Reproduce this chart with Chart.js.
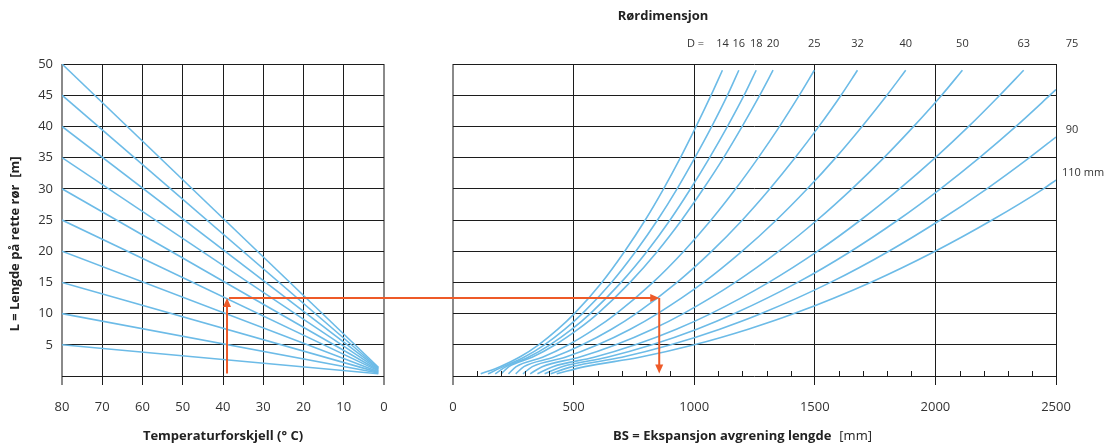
<!DOCTYPE html>
<html>
<head>
<meta charset="utf-8">
<script src="https://cdn.jsdelivr.net/npm/chart.js@4.4.1/dist/chart.umd.min.js"></script>
<style>
  html, body { margin: 0; padding: 0; background: #fff; }
  #wrap { position: relative; width: 1104px; height: 445px; }
  #leftBox { position: absolute; left: 0; top: 0; width: 440px; height: 445px; }
  #rightBox { position: absolute; left: 440px; top: 0; width: 664px; height: 445px; }
</style>
</head>
<body>
<div id="wrap">
  <div id="leftBox"><canvas id="tempCanvas"></canvas></div>
  <div id="rightBox"><canvas id="bsCanvas"></canvas></div>
</div>
<script>
// left panel: straight lines from 80 °C down to the fan point near 0
const lengthsAt80 = [5, 10, 15, 20, 25, 30, 35, 40, 45, 50];
const lengthsNearZero = [0.35, 0.47, 0.58, 0.7, 0.82, 0.93, 1.05, 1.17, 1.28, 1.4];
const tempHigh = 80;
const tempLow = 1.4;
const tempTicks = [80, 70, 60, 50, 40, 30, 20, 10, 0];

// right panel: BS [mm] for each pipe dimension, read at these L levels
const pipeLabels = ['14', '16', '18', '20', '25', '32', '40', '50', '63', '75', '90', '110 mm'];
const lengthLevels = [0.35, 1.5, 3, 5, 7.5, 10, 15, 20, 25, 30, 35, 40, 45, 49];
const bs14 = [115, 195, 275, 355, 435, 503, 617, 712, 797, 873, 943, 1008, 1070, 1117];
const bs16 = [145, 208, 294, 379, 464, 536, 657, 758, 848, 929, 1003, 1073, 1138, 1185];
const bs18 = [175, 220, 312, 402, 493, 569, 697, 805, 900, 985, 1064, 1138, 1207, 1257];
const bs20 = [200, 232, 328, 424, 519, 600, 734, 848, 948, 1038, 1122, 1199, 1272, 1327];
const bs25 = [230, 262, 371, 479, 586, 677, 829, 957, 1070, 1172, 1266, 1354, 1436, 1498];
const bs32 = [260, 294, 416, 536, 657, 759, 929, 1073, 1200, 1314, 1419, 1517, 1609, 1677];
const bs40 = [290, 329, 465, 600, 735, 848, 1039, 1199, 1341, 1469, 1587, 1696, 1799, 1877];
const bs50 = [320, 370, 523, 675, 827, 955, 1170, 1351, 1510, 1654, 1787, 1910, 2026, 2112];
const bs63 = [350, 414, 585, 756, 926, 1069, 1309, 1512, 1690, 1851, 2000, 2138, 2267, 2366];
const bs75 = [380, 452, 639, 825, 1011, 1167, 1429, 1650, 1845, 2021, 2183, 2334, 2475, 2500];
const bs90 = [405, 494, 700, 903, 1106, 1278, 1565, 1807, 2020, 2213, 2390, 2500];
const bs110 = [430, 547, 774, 1000, 1224, 1414, 1731, 1999, 2235, 2448, 2500];
// L where each curve ends (top of chart or right border)
const curveEndLength = [49, 49, 49, 49, 49, 49, 49, 49, 49, 45.9, 38.3, 31.4];
const bsTicks = [0, 500, 1000, 1500, 2000, 2500];

// worked example (orange arrows)
const exampleTemp = 39;
const exampleLength = 12.5;
const exampleBase = 0.4;
const exampleBs = 855;

Chart.defaults.font.family = "'Open Sans', 'Noto Sans', sans-serif";
Chart.defaults.color = '#333';
Chart.defaults.animation = false;

const lineBlue = '#6cbbe7';
const arrowOrange = '#ee5a28';
const gridDark = '#1c1c1c';
const gridGrey = '#8a8a8a';
const titleFont = "bold 13px 'Open Sans', sans-serif";

function drawArrowHead(ctx, x, y, dir) {
    const len = 9, half = 4;
    ctx.beginPath();
    ctx.moveTo(x, y);
    if (dir === 'up') { ctx.lineTo(x - half, y + len); ctx.lineTo(x + half, y + len); }
    if (dir === 'down') { ctx.lineTo(x - half, y - len); ctx.lineTo(x + half, y - len); }
    if (dir === 'right') { ctx.lineTo(x - len, y - half); ctx.lineTo(x - len, y + half); }
    ctx.closePath();
    ctx.fill();
}

const leftExtras = {
    id: 'leftExtras',
    afterDraw(chart) {
        const ctx = chart.ctx;
        const xs = chart.scales.x, ys = chart.scales.y;
        const px = xs.getPixelForValue(exampleTemp);
        const yTop = ys.getPixelForValue(exampleLength);
        const yBot = ys.getPixelForValue(exampleBase);
        ctx.save();
        ctx.strokeStyle = arrowOrange;
        ctx.fillStyle = arrowOrange;
        ctx.lineWidth = 2;
        ctx.beginPath();
        ctx.moveTo(px, yBot);
        ctx.lineTo(px, yTop + 8);
        ctx.moveTo(px + 2, yTop);
        ctx.lineTo(chart.width, yTop);
        ctx.stroke();
        drawArrowHead(ctx, px, yTop, 'up');

        // y axis title
        ctx.translate(15, 244);
        ctx.rotate(-Math.PI / 2);
        ctx.fillStyle = '#222';
        ctx.font = titleFont;
        ctx.textAlign = 'center';
        ctx.textBaseline = 'middle';
        ctx.fillText('L = Lengde på rette rør  [m]', 0, 0);
        ctx.restore();
    }
};

const rightExtras = {
    id: 'rightExtras',
    afterDraw(chart) {
        const ctx = chart.ctx;
        const xs = chart.scales.x, ys = chart.scales.y;
        const area = chart.chartArea;
        ctx.save();

        // minor ticks every 100 mm
        ctx.strokeStyle = gridDark;
        ctx.lineWidth = 1;
        ctx.beginPath();
        for (let v = 100; v < 2500; v += 100) {
            if (v % 500 === 0) continue;
            const p = Math.round(xs.getPixelForValue(v)) + 0.5;
            ctx.moveTo(p, area.bottom);
            ctx.lineTo(p, area.bottom - 5);
        }
        ctx.stroke();

        // header
        ctx.fillStyle = '#222';
        ctx.textBaseline = 'middle';
        ctx.textAlign = 'center';
        ctx.font = titleFont;
        ctx.fillText('Rørdimensjon', area.left + 210, area.top - 48);

        ctx.fillStyle = '#333';
        ctx.font = "11px 'Open Sans', sans-serif";
        ctx.textAlign = 'left';
        ctx.fillText('D =', area.left + 234, area.top - 20);

        chart.data.datasets.forEach((ds, i) => {
            const last = ds.data[ds.data.length - 1];
            const label = pipeLabels[i];
            if (last.x < 2500) {
                ctx.textAlign = 'center';
                ctx.fillText(label, xs.getPixelForValue(last.x), area.top - 20);
            } else if (last.y > 44) {
                ctx.textAlign = 'center';
                ctx.fillText(label, area.right + 16, area.top - 20);
            } else if (label.length > 3) {
                ctx.textAlign = 'left';
                ctx.fillText(label, area.right + 6, ys.getPixelForValue(last.y) - 7);
            } else {
                ctx.textAlign = 'center';
                ctx.fillText(label, area.right + 16, ys.getPixelForValue(last.y) - 7);
            }
        });

        // x axis title, bold + regular unit
        const t1 = 'BS = Ekspansjon avgrening lengde';
        const t2 = '[mm]';
        ctx.font = titleFont;
        const w1 = ctx.measureText(t1).width;
        ctx.font = "13px 'Open Sans', sans-serif";
        const w2 = ctx.measureText(t2).width;
        const gap = 8;
        const startX = (area.left + area.right) / 2 - 12 - (w1 + gap + w2) / 2;
        ctx.textAlign = 'left';
        ctx.fillStyle = '#222';
        ctx.font = titleFont;
        ctx.fillText(t1, startX, 436);
        ctx.font = "13px 'Open Sans', sans-serif";
        ctx.fillText(t2, startX + w1 + gap, 436);

        // orange arrows
        const px = xs.getPixelForValue(exampleBs);
        const yTop = ys.getPixelForValue(exampleLength);
        const yBot = ys.getPixelForValue(exampleBase);
        ctx.strokeStyle = arrowOrange;
        ctx.fillStyle = arrowOrange;
        ctx.lineWidth = 2;
        ctx.beginPath();
        ctx.moveTo(0, yTop);
        ctx.lineTo(px - 8, yTop);
        ctx.moveTo(px, yTop);
        ctx.lineTo(px, yBot - 8);
        ctx.stroke();
        drawArrowHead(ctx, px, yTop, 'right');
        drawArrowHead(ctx, px, yBot, 'down');
        ctx.restore();
    }
};

document.addEventListener('DOMContentLoaded', function () {
    const tempSets = lengthsAt80.map((L, i) => ({
        data: [{ x: tempHigh, y: L }, { x: tempLow, y: lengthsNearZero[i] }],
        borderColor: lineBlue,
        borderWidth: 1.6,
        pointRadius: 0,
        showLine: true
    }));

    new Chart(document.getElementById('tempCanvas'), {
        type: 'scatter',
        data: { datasets: tempSets },
        options: {
            responsive: true,
            maintainAspectRatio: false,
            layout: { padding: { top: 64, right: 56, left: 0, bottom: 0 } },
            plugins: { legend: { display: false }, tooltip: { enabled: false } },
            scales: {
                x: {
                    type: 'linear',
                    reverse: true,
                    min: 0,
                    max: 80,
                    afterFit: s => { s.height = 69; s.paddingLeft = 0; s.paddingRight = 0; },
                    afterBuildTicks: s => { s.ticks = tempTicks.map(v => ({ value: v })); },
                    ticks: { padding: 14, font: { size: 13 }, callback: v => String(v) },
                    grid: {
                        color: c => (c.tick && (c.tick.value === 0 || c.tick.value === 80)) ? gridGrey : gridDark,
                        lineWidth: c => (c.tick && (c.tick.value === 0 || c.tick.value === 80)) ? 2 : 1,
                        tickLength: 9
                    },
                    border: { display: false },
                    title: {
                        display: true,
                        text: 'Temperaturforskjell (° C)',
                        color: '#222',
                        font: { size: 13, weight: 'bold' },
                        padding: { top: 0, bottom: 1 }
                    }
                },
                y: {
                    min: 0,
                    max: 50,
                    afterFit: s => { s.width = 62; },
                    ticks: { stepSize: 5, padding: 9, font: { size: 13 }, callback: v => v === 0 ? '' : String(v) },
                    grid: { color: gridDark, lineWidth: 1, drawTicks: false },
                    border: { display: false }
                }
            }
        },
        plugins: [leftExtras]
    });

    const bsCurves = [bs14, bs16, bs18, bs20, bs25, bs32, bs40, bs50, bs63, bs75, bs90, bs110];
    const bsSets = bsCurves.map((bs, i) => ({
        data: bs.map((x, j) => ({ x: x, y: j === bs.length - 1 ? curveEndLength[i] : lengthLevels[j] })),
        borderColor: lineBlue,
        borderWidth: 1.6,
        pointRadius: 0,
        showLine: true,
        cubicInterpolationMode: 'monotone'
    }));

    new Chart(document.getElementById('bsCanvas'), {
        type: 'scatter',
        data: { datasets: bsSets },
        options: {
            responsive: true,
            maintainAspectRatio: false,
            layout: { padding: { top: 64, right: 48, left: 0, bottom: 0 } },
            plugins: { legend: { display: false }, tooltip: { enabled: false } },
            scales: {
                x: {
                    type: 'linear',
                    min: 0,
                    max: 2500,
                    afterFit: s => { s.height = 69; s.paddingLeft = 0; s.paddingRight = 0; },
                    afterBuildTicks: s => { s.ticks = bsTicks.map(v => ({ value: v })); },
                    ticks: { padding: 14, font: { size: 13 }, callback: v => String(v) },
                    grid: {
                        color: c => (c.tick && c.tick.value === 0) ? gridGrey : gridDark,
                        lineWidth: c => (c.tick && c.tick.value === 0) ? 2 : 1,
                        tickLength: 9
                    },
                    border: { display: false }
                },
                y: {
                    min: 0,
                    max: 50,
                    afterFit: s => { s.width = 13; },
                    ticks: { stepSize: 5, display: false },
                    grid: { color: gridDark, lineWidth: 1, drawTicks: false },
                    border: { display: false }
                }
            }
        },
        plugins: [rightExtras]
    });
});
</script>
</body>
</html>
